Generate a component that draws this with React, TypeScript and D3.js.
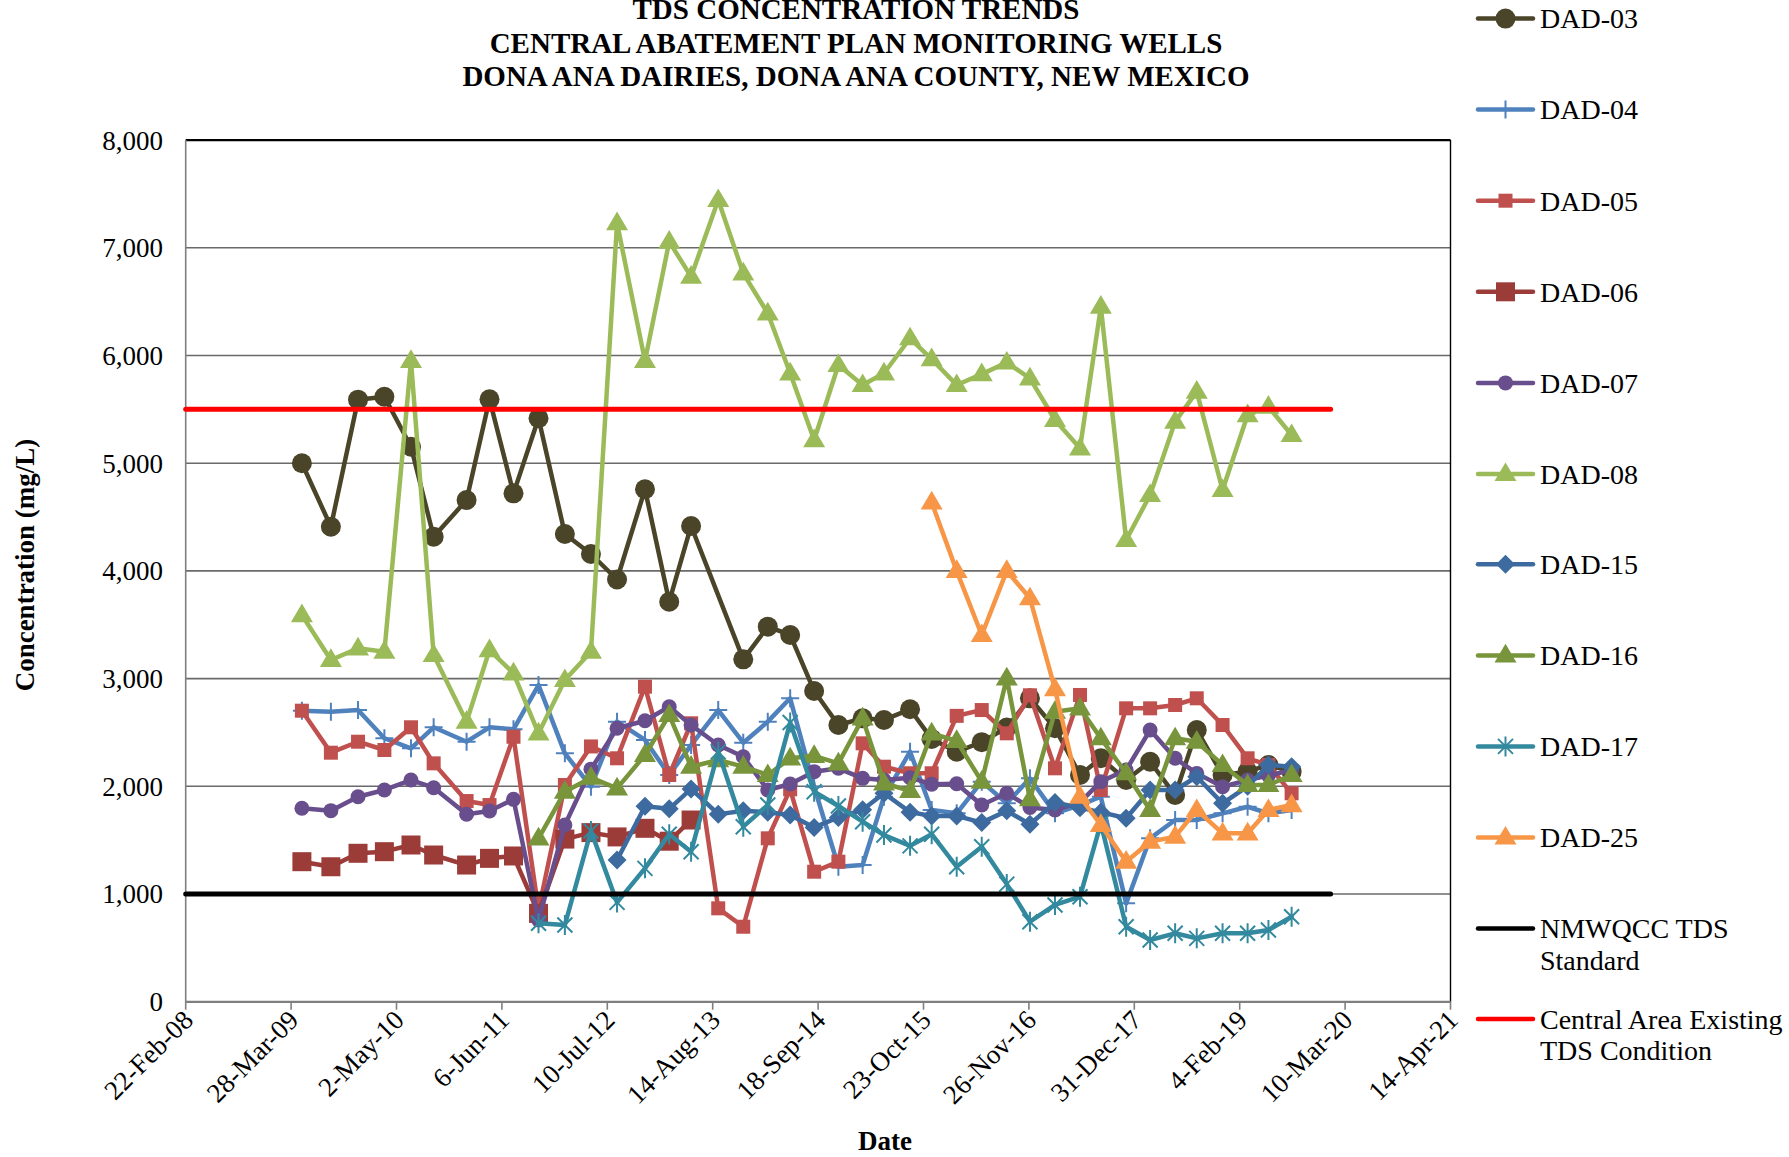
import React from "react";
import * as d3 from "d3";

// ---------- DATA ----------
const sampleDates = [
  "2009-05-08", "2009-08-26", "2009-12-07", "2010-03-17", "2010-06-26", "2010-09-20",
  "2011-01-23", "2011-04-20", "2011-07-20", "2011-10-23", "2012-01-31", "2012-05-09",
  "2012-08-16", "2012-11-30", "2013-03-02", "2013-05-24", "2013-09-04", "2013-12-08",
  "2014-03-11", "2014-06-04", "2014-09-03", "2014-12-04", "2015-03-06", "2015-05-26",
  "2015-09-02", "2015-11-23", "2016-02-26", "2016-05-31", "2016-09-03", "2016-11-30",
  "2017-03-05", "2017-06-08", "2017-08-26", "2017-11-30", "2018-03-01", "2018-06-04",
  "2018-08-25", "2018-12-01", "2019-03-06", "2019-05-24", "2019-08-20",
];

const N = null;
const dad03 = [5000, 4410, 5590, 5617, 5153, 4317, 4658, 5593, 4720, 5417, 4343, 4157, 3920, 4758, 3714, 4417, N, 3179, 3482, 3405, 2885, 2569, 2631, 2616, 2715, 2440, 2321, 2410, 2545, 2817, 2539, 2105, 2260, 2058, 2228, 1919, 2523, 2105, 2136, 2198, 2136];
const dad04 = [2702, 2693, 2708, 2446, 2353, 2548, 2414, 2548, 2529, 2940, 2306, 1996, 2600, 2430, 2105, 2383, 2708, 2405, 2600, 2817, 1996, 1253, 1269, 1903, 2321, 1780, 1749, 2043, 1842, 2074, 1749, 1826, 1903, 913, 1517, 1687, 1687, 1749, 1810, 1749, 1780];
const dad05 = [2702, 2312, 2414, 2337, 2548, 2213, 1863, 1826, 2460, 850, 2012, 2370, 2260, 2925, 2105, 2585, 867, 696, 1517, 1972, 1207, 1300, 2399, 2182, 2121, 2121, 2654, 2708, 2492, 2845, 2167, 2848, 1966, 2724, 2724, 2755, 2817, 2569, 2260, 2198, 1935];
const dad06 = [1300, 1253, 1378, 1393, 1455, 1362, 1269, 1331, 1353, 820, 1510, 1570, 1530, 1610, 1490, 1687, N, N, N, N, N, N, N, N, N, N, N, N, N, N, N, N, N, N, N, N, N, N, N, N, N];
const dad07 = [1796, 1774, 1903, 1966, 2058, 1987, 1740, 1771, 1879, 758, 1641, 2159, 2539, 2609, 2739, 2569, 2383, 2275, 1966, 2021, 2136, 2167, 2074, 2058, 2080, 2020, 2024, 1826, 1935, 1803, 1780, 1850, 2043, 2151, 2523, 2260, 2120, 1996, 2058, 2100, 2150];
const dad08 = [3590, 3173, 3281, 3250, 5950, 3219, 2600, 3265, 3049, 2492, 2987, 3250, 7230, 5950, 7057, 6732, 7444, 6763, 6392, 5835, 5215, 5912, 5726, 5835, 6160, 5966, 5726, 5827, 5935, 5788, 5401, 5138, 6453, 4287, 4705, 5386, 5664, 4751, 5447, 5525, 5262];
const dad15 = [N, N, N, N, N, N, N, N, N, N, N, N, 1316, 1814, 1791, 1976, 1741, 1772, 1760, 1733, 1618, 1710, 1783, 1935, 1760, 1725, 1725, 1663, 1772, 1648, 1850, 1800, 1760, 1703, 1966, 1966, 2089, 1842, 2000, 2198, 2182];
const dad16 = [N, N, N, N, N, N, N, N, N, 1517, 1950, 2080, 1981, 2291, 2662, 2182, 2244, 2182, 2105, 2260, 2283, 2213, 2631, 2028, 1958, 2492, 2422, 2043, 3003, 1880, 2693, 2724, 2446, 2121, 1780, 2446, 2414, 2198, 2012, 2012, 2105];
const dad17 = [N, N, N, N, N, N, N, N, N, 728, 712, 1586, 922, 1238, 1555, 1393, 2320, 1625, 1826, 2592, 1950, 1817, 1671, 1548, 1447, 1555, 1253, 1439, 1092, 743, 898, 975, 1656, 696, 573, 635, 588, 635, 635, 666, 789];
const dad25 = [N, N, N, N, N, N, N, N, N, N, N, N, N, N, N, N, N, N, N, N, N, N, N, N, N, 4636, 4000, 3405, 4000, 3746, 2902, 1903, 1641, 1300, 1486, 1532, 1780, 1563, 1563, 1780, 1826];

const seriesNames = ["DAD-03", "DAD-04", "DAD-05", "DAD-06", "DAD-07", "DAD-08", "DAD-15", "DAD-16", "DAD-17", "DAD-25"];
const seriesValues = [dad03, dad04, dad05, dad06, dad07, dad08, dad15, dad16, dad17, dad25];

const referenceDates = ["2008-02-22", "2020-01-15"];
const standardValue = 1000; // NMWQCC TDS Standard
const conditionValue = 5500; // Central Area Existing TDS Condition

const xTickDates = ["2008-02-22", "2009-03-28", "2010-05-02", "2011-06-06", "2012-07-10", "2013-08-14", "2014-09-18", "2015-10-23", "2016-11-26", "2017-12-31", "2019-02-04", "2020-03-10", "2021-04-14"];
const yTicks = [0, 1000, 2000, 3000, 4000, 5000, 6000, 7000, 8000];

const titleLines = ["TDS CONCENTRATION TRENDS", "CENTRAL ABATEMENT PLAN MONITORING WELLS", "DONA ANA DAIRIES, DONA ANA COUNTY, NEW MEXICO"];

// ---------- STYLE ----------
const styles: Record<string, { color: string; marker: string; size: number }> = {
  "DAD-03": { color: "#4A4429", marker: "circle", size: 10 },
  "DAD-04": { color: "#4F81BD", marker: "plus", size: 9 },
  "DAD-05": { color: "#C0504D", marker: "square", size: 7 },
  "DAD-06": { color: "#9C3C39", marker: "square", size: 9.5 },
  "DAD-07": { color: "#684E8C", marker: "circle", size: 7.5 },
  "DAD-08": { color: "#9BBB59", marker: "triangle", size: 11 },
  "DAD-15": { color: "#3D6BA0", marker: "diamond", size: 9.5 },
  "DAD-16": { color: "#78953C", marker: "triangle", size: 11 },
  "DAD-17": { color: "#33899E", marker: "asterisk", size: 10 },
  "DAD-25": { color: "#F79646", marker: "triangle", size: 11 },
};

const FONT = "'Liberation Serif', 'Times New Roman', serif";
const W = 1789, H = 1157;
const plot = { left: 185.7, right: 1450.5, top: 140.1, bottom: 1001.7 };

const parse = d3.timeParse("%Y-%m-%d");
const fmt = d3.timeFormat("%-d-%b-%y");

function Marker({ type, size, color, x, y }: { type: string; size: number; color: string; x: number; y: number }) {
  const s = size;
  if (type === "circle") return <circle cx={x} cy={y} r={s} fill={color} />;
  if (type === "square") return <rect x={x - s} y={y - s} width={2 * s} height={2 * s} fill={color} />;
  if (type === "diamond")
    return <path d={`M${x},${y - s}L${x + s},${y}L${x},${y + s}L${x - s},${y}Z`} fill={color} />;
  if (type === "triangle") {
    const h = s * 1.7;
    return <path d={`M${x},${y - h * 0.62}L${x + s},${y + h * 0.38}L${x - s},${y + h * 0.38}Z`} fill={color} />;
  }
  if (type === "plus")
    return <path d={`M${x - s},${y}L${x + s},${y}M${x},${y - s}L${x},${y + s}`} stroke={color} strokeWidth={2} fill="none" />;
  if (type === "asterisk") {
    const d = s * 0.75;
    return (
      <path
        d={`M${x},${y - s}L${x},${y + s}M${x - d},${y - d}L${x + d},${y + d}M${x - d},${y + d}L${x + d},${y - d}`}
        stroke={color}
        strokeWidth={2}
        fill="none"
      />
    );
  }
  return null;
}

export default function App() {
  const x = d3.scaleTime().domain([parse("2008-02-22")!, parse("2021-04-14")!]).range([plot.left, plot.right]);
  const y = d3.scaleLinear().domain([0, 8000]).range([plot.bottom, plot.top]);
  const dates = sampleDates.map((d) => parse(d)!);

  // Excel-style: lines bridge over missing samples
  const line = d3
    .line<{ date: Date; value: number }>()
    .x((d) => x(d.date))
    .y((d) => y(d.value));

  const refX0 = x(parse(referenceDates[0])!);
  const refX1 = x(parse(referenceDates[1])!);

  const legendYs = [18.6, 109.6, 200.7, 291.8, 382.9, 474, 564.3, 655.4, 746.4, 837.5];
  const legX0 = 1478, legX1 = 1533, legText = 1540;

  return (
    <svg width={W} height={H} style={{ position: "absolute", left: 0, top: 0, background: "#fff" }} fontFamily={FONT}>
      <rect x={0} y={0} width={W} height={H} fill="#fff" />
      {/* Title */}
      {titleLines.map((t, i) => (
        <text key={t} x={856} y={19 + i * 33.5} textAnchor="middle" fontSize={29} fontWeight="bold" fill="#000">
          {t}
        </text>
      ))}

      {/* gridlines */}
      {yTicks.map((v) => (
        <line key={v} x1={plot.left} x2={plot.right} y1={y(v)} y2={y(v)} stroke={v === 0 || v === 8000 ? "#000" : "#6a6a6a"} strokeWidth={v === 8000 ? 2.2 : 1.6} />
      ))}
      {/* axes / frame */}
      <line x1={plot.left} x2={plot.left} y1={plot.top} y2={plot.bottom} stroke="#7f7f7f" strokeWidth={1.6} />
      <line x1={plot.right} x2={plot.right} y1={plot.top} y2={plot.bottom} stroke="#000" strokeWidth={1.4} />
      <line x1={plot.left} x2={plot.right} y1={plot.bottom} y2={plot.bottom} stroke="#7f7f7f" strokeWidth={2} />

      {/* y tick labels */}
      {yTicks.map((v) => (
        <text key={v} x={163} y={y(v)} dy="0.35em" textAnchor="end" fontSize={27} fill="#000">
          {d3.format(",")(v)}
        </text>
      ))}

      {/* x ticks */}
      {xTickDates.map((d) => {
        const xx = x(parse(d)!);
        return (
          <g key={d}>
            <line x1={xx} x2={xx} y1={plot.bottom} y2={plot.bottom + 8} stroke="#7f7f7f" strokeWidth={1.6} />
            <text transform={`translate(${xx + 9},${plot.bottom + 20}) rotate(-45)`} textAnchor="end" fontSize={27} fill="#000">
              {fmt(parse(d)!)}
            </text>
          </g>
        );
      })}

      {/* axis titles */}
      <text x={885} y={1150} textAnchor="middle" fontSize={27} fontWeight="bold">Date</text>
      <text transform={`translate(34,565) rotate(-90)`} textAnchor="middle" fontSize={27} fontWeight="bold">
        Concentration  (mg/L)
      </text>

      {/* series */}
      {seriesNames.map((name, si) => {
        const st = styles[name];
        const vals = seriesValues[si];
        const pts = vals
          .map((v, i) => (v == null ? null : { date: dates[i], value: v as number }))
          .filter((p): p is { date: Date; value: number } => p != null);
        return (
          <g key={name}>
            <path d={line(pts) || ""} fill="none" stroke={st.color} strokeWidth={4.5} strokeLinejoin="round" strokeLinecap="round" />
            {pts.map((p, i) => (
              <Marker key={i} type={st.marker} size={st.size} color={st.color} x={x(p.date)} y={y(p.value)} />
            ))}
          </g>
        );
      })}

      {/* reference lines */}
      <line x1={refX0} x2={refX1} y1={y(standardValue)} y2={y(standardValue)} stroke="#000" strokeWidth={5} strokeLinecap="round" />
      <line x1={refX0} x2={refX1} y1={y(conditionValue)} y2={y(conditionValue)} stroke="#FF0000" strokeWidth={5} strokeLinecap="round" />

      {/* legend */}
      {seriesNames.map((name, i) => {
        const st = styles[name];
        const ly = legendYs[i];
        return (
          <g key={name}>
            <line x1={legX0} x2={legX1} y1={ly} y2={ly} stroke={st.color} strokeWidth={4.5} strokeLinecap="round" />
            <Marker type={st.marker} size={st.size} color={st.color} x={(legX0 + legX1) / 2} y={ly} />
            <text x={legText} y={ly} dy="0.35em" fontSize={28} fill="#000">{name}</text>
          </g>
        );
      })}
      <line x1={legX0} x2={legX1} y1={928.6} y2={928.6} stroke="#000" strokeWidth={4.5} strokeLinecap="round" />
      <text x={legText} y={928.6} dy="0.35em" fontSize={28}>NMWQCC TDS</text>
      <text x={legText} y={959.8} dy="0.35em" fontSize={28}>Standard</text>
      <line x1={legX0} x2={legX1} y1={1019} y2={1019} stroke="#FF0000" strokeWidth={4.5} strokeLinecap="round" />
      <text x={legText} y={1019} dy="0.35em" fontSize={28}>Central Area Existing</text>
      <text x={legText} y={1050.5} dy="0.35em" fontSize={28}>TDS Condition</text>
    </svg>
  );
}
